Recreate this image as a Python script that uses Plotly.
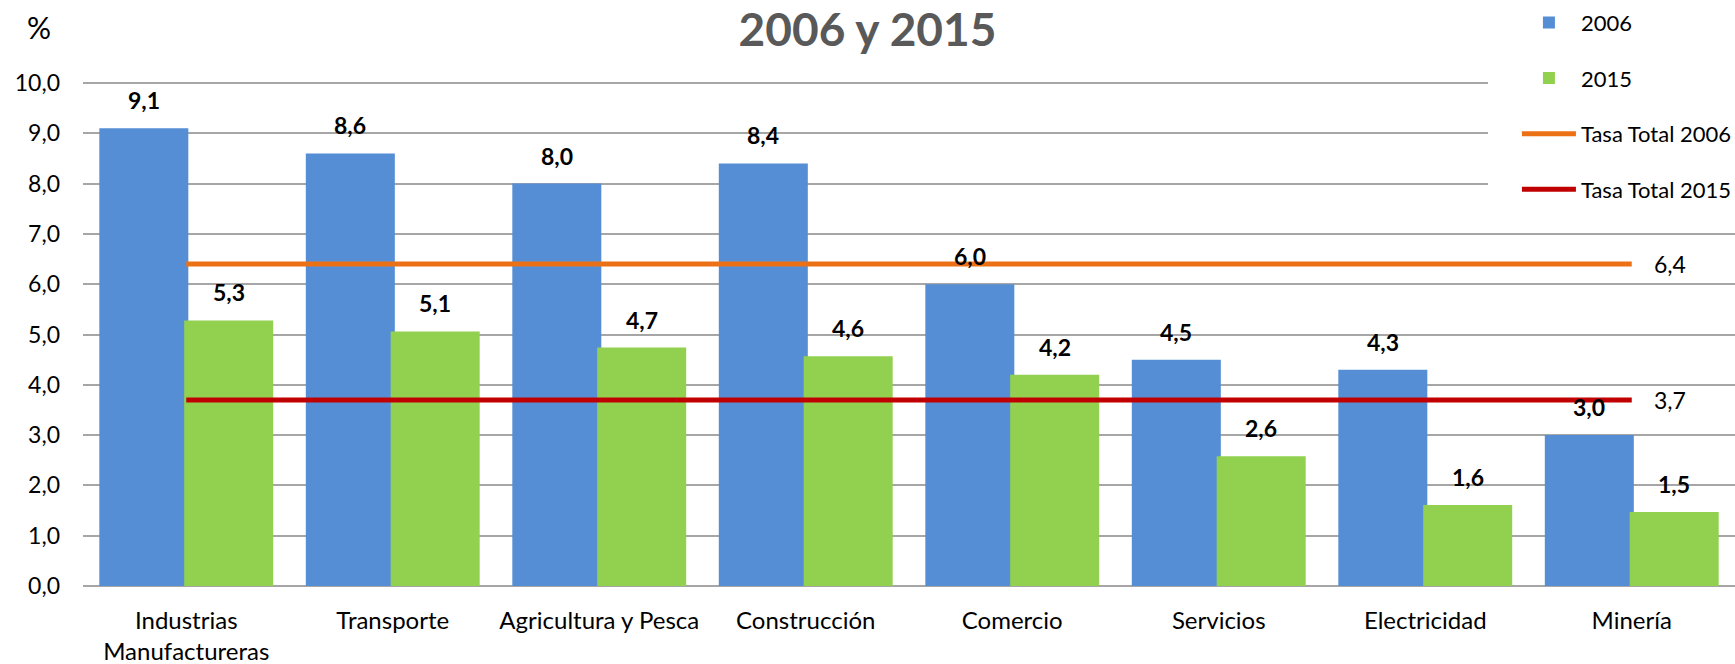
import plotly.graph_objects as go

categories = ["Industrias<br>Manufactureras", "Transporte", "Agricultura y Pesca", "Construcción",
              "Comercio", "Servicios", "Electricidad", "Minería"]
values_2006 = [9.1, 8.6, 8.0, 8.4, 6.0, 4.5, 4.3, 3.0]
values_2015 = [5.28, 5.06, 4.74, 4.57, 4.2, 2.58, 1.61, 1.47]
total_2006 = 6.4
total_2015 = 3.7
y_ticks = [0, 1, 2, 3, 4, 5, 6, 7, 8, 9, 10]

FONT = "Lato"
BLUE = "#558ED5"
GREEN = "#92D050"
ORANGE = "#EC7014"
RED = "#C00000"
GRID = "#A6A6A6"

W_BAR = 0.431
OFF_BLUE = -0.421
OFF_GREEN = -0.010


def fmt(v):
    return f"{v:.1f}".replace(".", ",")


fig = go.Figure()
fig.add_trace(go.Bar(name="2006", x=categories, y=values_2006, marker=dict(color=BLUE, line=dict(width=0)),
                     width=[W_BAR] * len(categories), offset=[OFF_BLUE] * len(categories),
                     legendgroup="a", hoverinfo="skip"))
fig.add_trace(go.Bar(name="2015", x=categories, y=values_2015, marker=dict(color=GREEN, line=dict(width=0)),
                     width=[W_BAR] * len(categories), offset=[OFF_GREEN] * len(categories),
                     legendgroup="b", hoverinfo="skip"))
fig.add_trace(go.Scatter(name="Tasa Total 2006", x=categories, y=[total_2006] * len(categories),
                         mode="lines", line=dict(color=ORANGE, width=5), legendgroup="c", hoverinfo="skip"))
fig.add_trace(go.Scatter(name="Tasa Total 2015", x=categories, y=[total_2015] * len(categories),
                         mode="lines", line=dict(color=RED, width=5), legendgroup="d", hoverinfo="skip"))

annotations = []
for i, v in enumerate(values_2006):
    annotations.append(dict(x=i + OFF_BLUE + W_BAR / 2, y=v, xref="x", yref="y", text=f"<b>{fmt(v)}</b>",
                            showarrow=False, yanchor="bottom", xanchor="center", yshift=12,
                            font=dict(family=FONT, size=23, color="#000000")))
for i, v in enumerate(values_2015):
    annotations.append(dict(x=i + OFF_GREEN + W_BAR / 2, y=v, xref="x", yref="y", text=f"<b>{fmt(v)}</b>",
                            showarrow=False, yanchor="bottom", xanchor="center", yshift=12,
                            font=dict(family=FONT, size=23, color="#000000")))
for t in (total_2006, total_2015):
    annotations.append(dict(x=len(categories) - 1, y=t, xref="x", yref="y", text=fmt(t),
                            showarrow=False, xanchor="left", yanchor="middle", xshift=20,
                            font=dict(family=FONT, size=23, color="#000000")))
annotations.append(dict(x=-0.0265, y=1.107, xref="paper", yref="paper", text="%", showarrow=False,
                        xanchor="center", yanchor="middle", font=dict(family=FONT, size=30, color="#000000")))

# white legend background area (covers the upper gridlines to the left of the legend, as in the original)
legend_bg = dict(type="rect", xref="paper", yref="paper", x0=0.8505, x1=0.875, y0=0.735, y1=1.16,
                 fillcolor="white", line=dict(width=0), layer="above")

fig.update_layout(
    width=1735, height=664,
    margin=dict(l=83, r=0, t=81, b=78, autoexpand=False),
    paper_bgcolor="white", plot_bgcolor="white",
    separators=", ",
    font=dict(family=FONT, size=23, color="#000000"),
    title=dict(text="<b>2006 y 2015</b>", x=0.5, xref="container", xanchor="center",
               y=1 - 46 / 664, yref="container", yanchor="bottom",
               font=dict(family=FONT, size=46, color="#595959"), automargin=False),
    barmode="group",
    showlegend=True,
    legend=dict(x=0.868, xanchor="left", y=1.157, yanchor="top", bgcolor="white",
                font=dict(family=FONT, size=22, color="#000000"), traceorder="grouped",
                tracegroupgap=24, itemwidth=54),
    annotations=annotations,
    shapes=[legend_bg],
)
fig.update_xaxes(type="category", range=[-0.5, len(categories) - 0.5], showgrid=False, ticks="",
                 tickfont=dict(family=FONT, size=24, color="#000000"), ticklabelstandoff=18,
                 showline=False)
fig.update_yaxes(range=[0, 10.04], tickvals=y_ticks, tickformat=".1f", showgrid=True, gridcolor=GRID,
                 gridwidth=2, zeroline=True, zerolinecolor=GRID, zerolinewidth=2, ticks="",
                 tickfont=dict(family=FONT, size=23, color="#000000"), ticklabelstandoff=22,
                 showline=False)

fig.write_html("out.html", config={"displayModeBar": False},
               post_script="document.body.style.margin='0px';")
